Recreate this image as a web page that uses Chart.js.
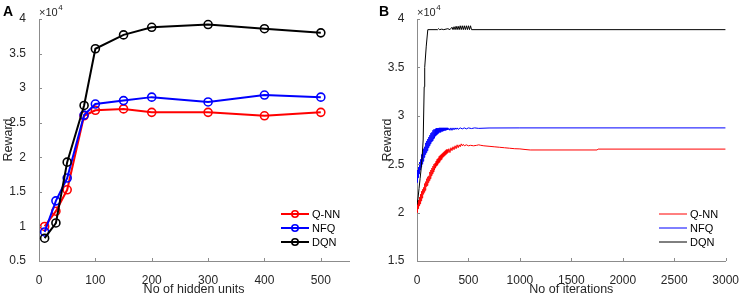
<!DOCTYPE html>
<html>
<head>
<meta charset="utf-8">
<script src="https://cdn.jsdelivr.net/npm/chart.js@4.4.1/dist/chart.umd.min.js"></script>
<style>
  body { margin: 0; background: #fff; }
  #wrap { position: relative; width: 743px; height: 297px; }
  canvas { position: absolute; top: 0; }
</style>
</head>
<body>
<div id="wrap">
  <canvas id="chartA" width="370" height="297" style="left:0"></canvas>
  <canvas id="chartB" width="373" height="297" style="left:370px"></canvas>
</div>
<script>
// rewards are in units of 1e4 (axis shows x10^4)

// panel A: reward vs number of hidden units
const hiddenUnits = [10, 30, 50, 80, 100, 150, 200, 300, 400, 500];
const qnnA = [1.00, 1.22, 1.53, 2.60, 2.68, 2.70, 2.65, 2.65, 2.60, 2.65];
const nfqA = [0.92, 1.37, 1.70, 2.61, 2.77, 2.82, 2.87, 2.80, 2.90, 2.87];
const dqnA = [0.83, 1.05, 1.93, 2.75, 3.57, 3.77, 3.88, 3.92, 3.86, 3.80];
const xTicksA = [0, 100, 200, 300, 400, 500];
const yTicksA = [0.5, 1, 1.5, 2, 2.5, 3, 3.5, 4];

// panel B: reward vs iterations
const qnnIter = [0,5,10,15,20,25,30,35,40,45,50,55,60,65,70,75,80,85,90,95,
  100,105,110,115,120,125,130,135,140,145,150,155,160,165,170,175,180,185,190,195,
  200,205,210,215,220,225,230,235,240,245,250,255,260,265,270,275,280,285,290,295,
  300,310,320,330,340,350,360,370,380,390,
  400,410,420,430,440,450,460,480,500,520,550,580,600,620,650,700,750,800,850,900,
  950,1000,1050,1100,1750,1760,3000];
const qnnB = [2.00,2.10,2.04,2.13,2.07,2.16,2.09,2.19,2.12,2.22,2.15,2.24,2.19,2.26,2.21,2.30,2.23,2.32,2.27,2.35,
  2.28,2.37,2.31,2.38,2.33,2.42,2.35,2.44,2.38,2.46,2.40,2.48,2.42,2.50,2.44,2.51,2.46,2.53,2.48,2.55,
  2.49,2.56,2.51,2.58,2.52,2.59,2.54,2.60,2.55,2.61,2.57,2.62,2.58,2.63,2.59,2.64,2.60,2.65,2.61,2.65,
  2.62,2.66,2.62,2.67,2.64,2.68,2.65,2.69,2.66,2.70,
  2.67,2.70,2.68,2.71,2.69,2.705,2.69,2.70,2.69,2.695,2.69,2.695,2.70,2.695,2.69,2.685,2.68,2.675,2.67,2.665,
  2.66,2.658,2.652,2.647,2.647,2.656,2.656];

const nfqIter = [0,5,10,15,20,25,30,35,40,45,50,55,60,65,70,75,80,85,90,95,
  100,105,110,115,120,125,130,135,140,145,150,155,160,165,170,175,180,185,190,195,
  200,205,210,215,220,225,230,235,240,245,250,255,260,265,270,275,280,285,290,295,
  300,310,320,330,340,350,360,370,380,390,
  400,420,440,460,480,500,530,560,600,700,1000,3000];
const nfqB = [2.31,2.44,2.36,2.47,2.40,2.52,2.44,2.55,2.47,2.60,2.50,2.62,2.53,2.66,2.57,2.68,2.60,2.72,2.62,2.74,
  2.64,2.76,2.67,2.78,2.69,2.80,2.71,2.82,2.73,2.83,2.74,2.85,2.76,2.86,2.77,2.86,2.79,2.87,2.80,2.87,
  2.81,2.87,2.82,2.875,2.83,2.875,2.83,2.875,2.84,2.875,2.84,2.875,2.845,2.875,2.85,2.875,2.85,2.875,2.855,2.875,
  2.855,2.87,2.85,2.875,2.85,2.875,2.855,2.875,2.86,2.875,
  2.86,2.875,2.865,2.875,2.865,2.875,2.868,2.875,2.87,2.874,2.875,2.875];

const dqnIter = [0,10,20,30,40,50,60,70,75,90,105,200,210,220,240,260,300,320,
  340,350,360,370,380,390,400,410,420,430,440,450,460,470,480,490,500,510,520,530,3000];
const dqnB = [2.08,2.15,2.25,2.35,2.45,2.58,2.75,3.30,3.50,3.72,3.89,
  3.89,3.90,3.89,3.895,3.89,3.90,3.89,
  3.915,3.89,3.92,3.89,3.925,3.89,3.925,3.89,3.93,3.89,3.93,3.89,3.93,3.89,3.93,3.89,3.93,3.89,3.93,3.89,
  3.89];
const xTicksB = [0, 500, 1000, 1500, 2000, 2500, 3000];
const yTicksB = [1.5, 2, 2.5, 3, 3.5, 4];

const FONT = "'Liberation Sans', Arial, Helvetica, sans-serif";
const axisColor = '#8c8c8c';
const textColor = '#262626';

function pts(xs, ys) {
  return xs.map((x, i) => ({ x: x, y: ys[i] }));
}

// inward ticks, x10^4 label, panel letter and legend (MATLAB look)
const decoPlugin = {
  id: 'deco',
  afterDraw(chart, args, opts) {
    const { ctx, chartArea, scales } = chart;
    ctx.save();
    ctx.strokeStyle = axisColor;
    ctx.lineWidth = 1;
    ctx.beginPath();
    scales.x.ticks.forEach(t => {
      const px = Math.round(scales.x.getPixelForValue(t.value)) + 0.5;
      ctx.moveTo(px, chartArea.bottom);
      ctx.lineTo(px, chartArea.bottom - 3);
    });
    scales.y.ticks.forEach(t => {
      const py = Math.round(scales.y.getPixelForValue(t.value)) + 0.5;
      ctx.moveTo(chartArea.left, py);
      ctx.lineTo(chartArea.left + 3, py);
    });
    ctx.stroke();

    // exponent
    ctx.fillStyle = textColor;
    ctx.textBaseline = 'alphabetic';
    ctx.textAlign = 'left';
    ctx.font = '11px ' + FONT;
    ctx.fillText('\u00d710', chartArea.left, 15.5);
    const w = ctx.measureText('\u00d710').width;
    ctx.font = '8px ' + FONT;
    ctx.fillText('4', chartArea.left + w + 0.5, 9.5);

    // panel letter
    ctx.fillStyle = '#000';
    ctx.font = 'bold 14px ' + FONT;
    ctx.fillText(opts.letter, opts.letterX, 15.5);

    // legend
    ctx.font = '11px ' + FONT;
    ctx.textBaseline = 'middle';
    const ds = chart.data.datasets;
    ds.forEach((d, i) => {
      const y = opts.legendY + i * 14;
      ctx.strokeStyle = d.borderColor;
      ctx.lineWidth = d.borderWidth;
      ctx.beginPath();
      ctx.moveTo(opts.legendX, y);
      ctx.lineTo(opts.legendX + 28, y);
      ctx.stroke();
      if (d.pointRadius > 0) {
        ctx.lineWidth = d.pointBorderWidth;
        ctx.beginPath();
        ctx.arc(opts.legendX + 14, y, 3.2, 0, Math.PI * 2);
        ctx.stroke();
      }
      ctx.fillStyle = '#000';
      ctx.fillText(d.label, opts.legendX + 31, y + 0.5);
    });
    ctx.restore();
  }
};

function makeOptions(c) {
  return {
    responsive: false,
    animation: false,
    devicePixelRatio: 1,
    layout: { padding: { left: 0, right: c.padRight, top: 19, bottom: 0 } },
    plugins: {
      legend: { display: false },
      tooltip: { enabled: false },
      deco: c.deco
    },
    scales: {
      x: {
        type: 'linear',
        min: c.xMin, max: c.xMax,
        afterBuildTicks: s => { s.ticks = c.xTicks.map(v => ({ value: v })); },
        afterFit: s => { s.height = 36; },
        grid: { display: false },
        border: { display: true, color: axisColor, width: 1 },
        ticks: { color: textColor, padding: 4, maxRotation: 0, font: { family: FONT, size: 12 },
          callback: v => String(v) },
        title: { display: true, text: c.xTitle, color: textColor, padding: { top: 0, bottom: 0 },
          font: { family: FONT, size: 12.5 } }
      },
      y: {
        type: 'linear',
        min: c.yMin, max: c.yMax,
        afterBuildTicks: s => { s.ticks = c.yTicks.map(v => ({ value: v })); },
        afterFit: s => { s.width = c.yWidth; },
        grid: { display: false },
        border: { display: true, color: axisColor, width: 1 },
        ticks: { color: textColor, padding: c.yPad, font: { family: FONT, size: 12 },
          callback: v => String(v) },
        title: { display: true, text: 'Reward', color: textColor, padding: { top: c.yTitlePad, bottom: 0 },
          font: { family: FONT, size: 12.5 } }
      }
    }
  };
}

function markerSet(label, xs, ys, color, order) {
  return {
    label: label, data: pts(xs, ys), order: order,
    borderColor: color, borderWidth: 2,
    pointRadius: 4, pointBorderWidth: 1.6, pointBorderColor: color,
    pointBackgroundColor: 'rgba(0,0,0,0)', tension: 0
  };
}

function thinSet(label, xs, ys, color, order) {
  return {
    label: label, data: pts(xs, ys), order: order,
    borderColor: color, borderWidth: 1, pointRadius: 0, tension: 0
  };
}

new Chart(document.getElementById('chartA'), {
  type: 'line',
  data: {
    datasets: [
      markerSet('Q-NN', hiddenUnits, qnnA, '#ff0000', 2),
      markerSet('NFQ', hiddenUnits, nfqA, '#0000ff', 1),
      markerSet('DQN', hiddenUnits, dqnA, '#000000', 0)
    ]
  },
  options: makeOptions({
    padRight: 21, yWidth: 39, yPad: 5, yTitlePad: 1,
    xMin: 0, xMax: 550, xTicks: xTicksA, xTitle: 'No of hidden units',
    yMin: 0.5, yMax: 4, yTicks: yTicksA,
    deco: { letter: 'A', letterX: 3, legendX: 281, legendY: 214 }
  }),
  plugins: [decoPlugin]
});

new Chart(document.getElementById('chartB'), {
  type: 'line',
  data: {
    datasets: [
      thinSet('Q-NN', qnnIter, qnnB, '#ff0000', 2),
      thinSet('NFQ', nfqIter, nfqB, '#0000ff', 1),
      thinSet('DQN', dqnIter, dqnB, '#000000', 0)
    ]
  },
  options: makeOptions({
    padRight: 15, yWidth: 47, yPad: 4.5, yTitlePad: 10,
    xMin: 0, xMax: 3000, xTicks: xTicksB, xTitle: 'No of iterations',
    yMin: 1.5, yMax: 4, yTicks: yTicksB,
    deco: { letter: 'B', letterX: 9, legendX: 289, legendY: 214 }
  }),
  plugins: [decoPlugin]
});
</script>
</body>
</html>
